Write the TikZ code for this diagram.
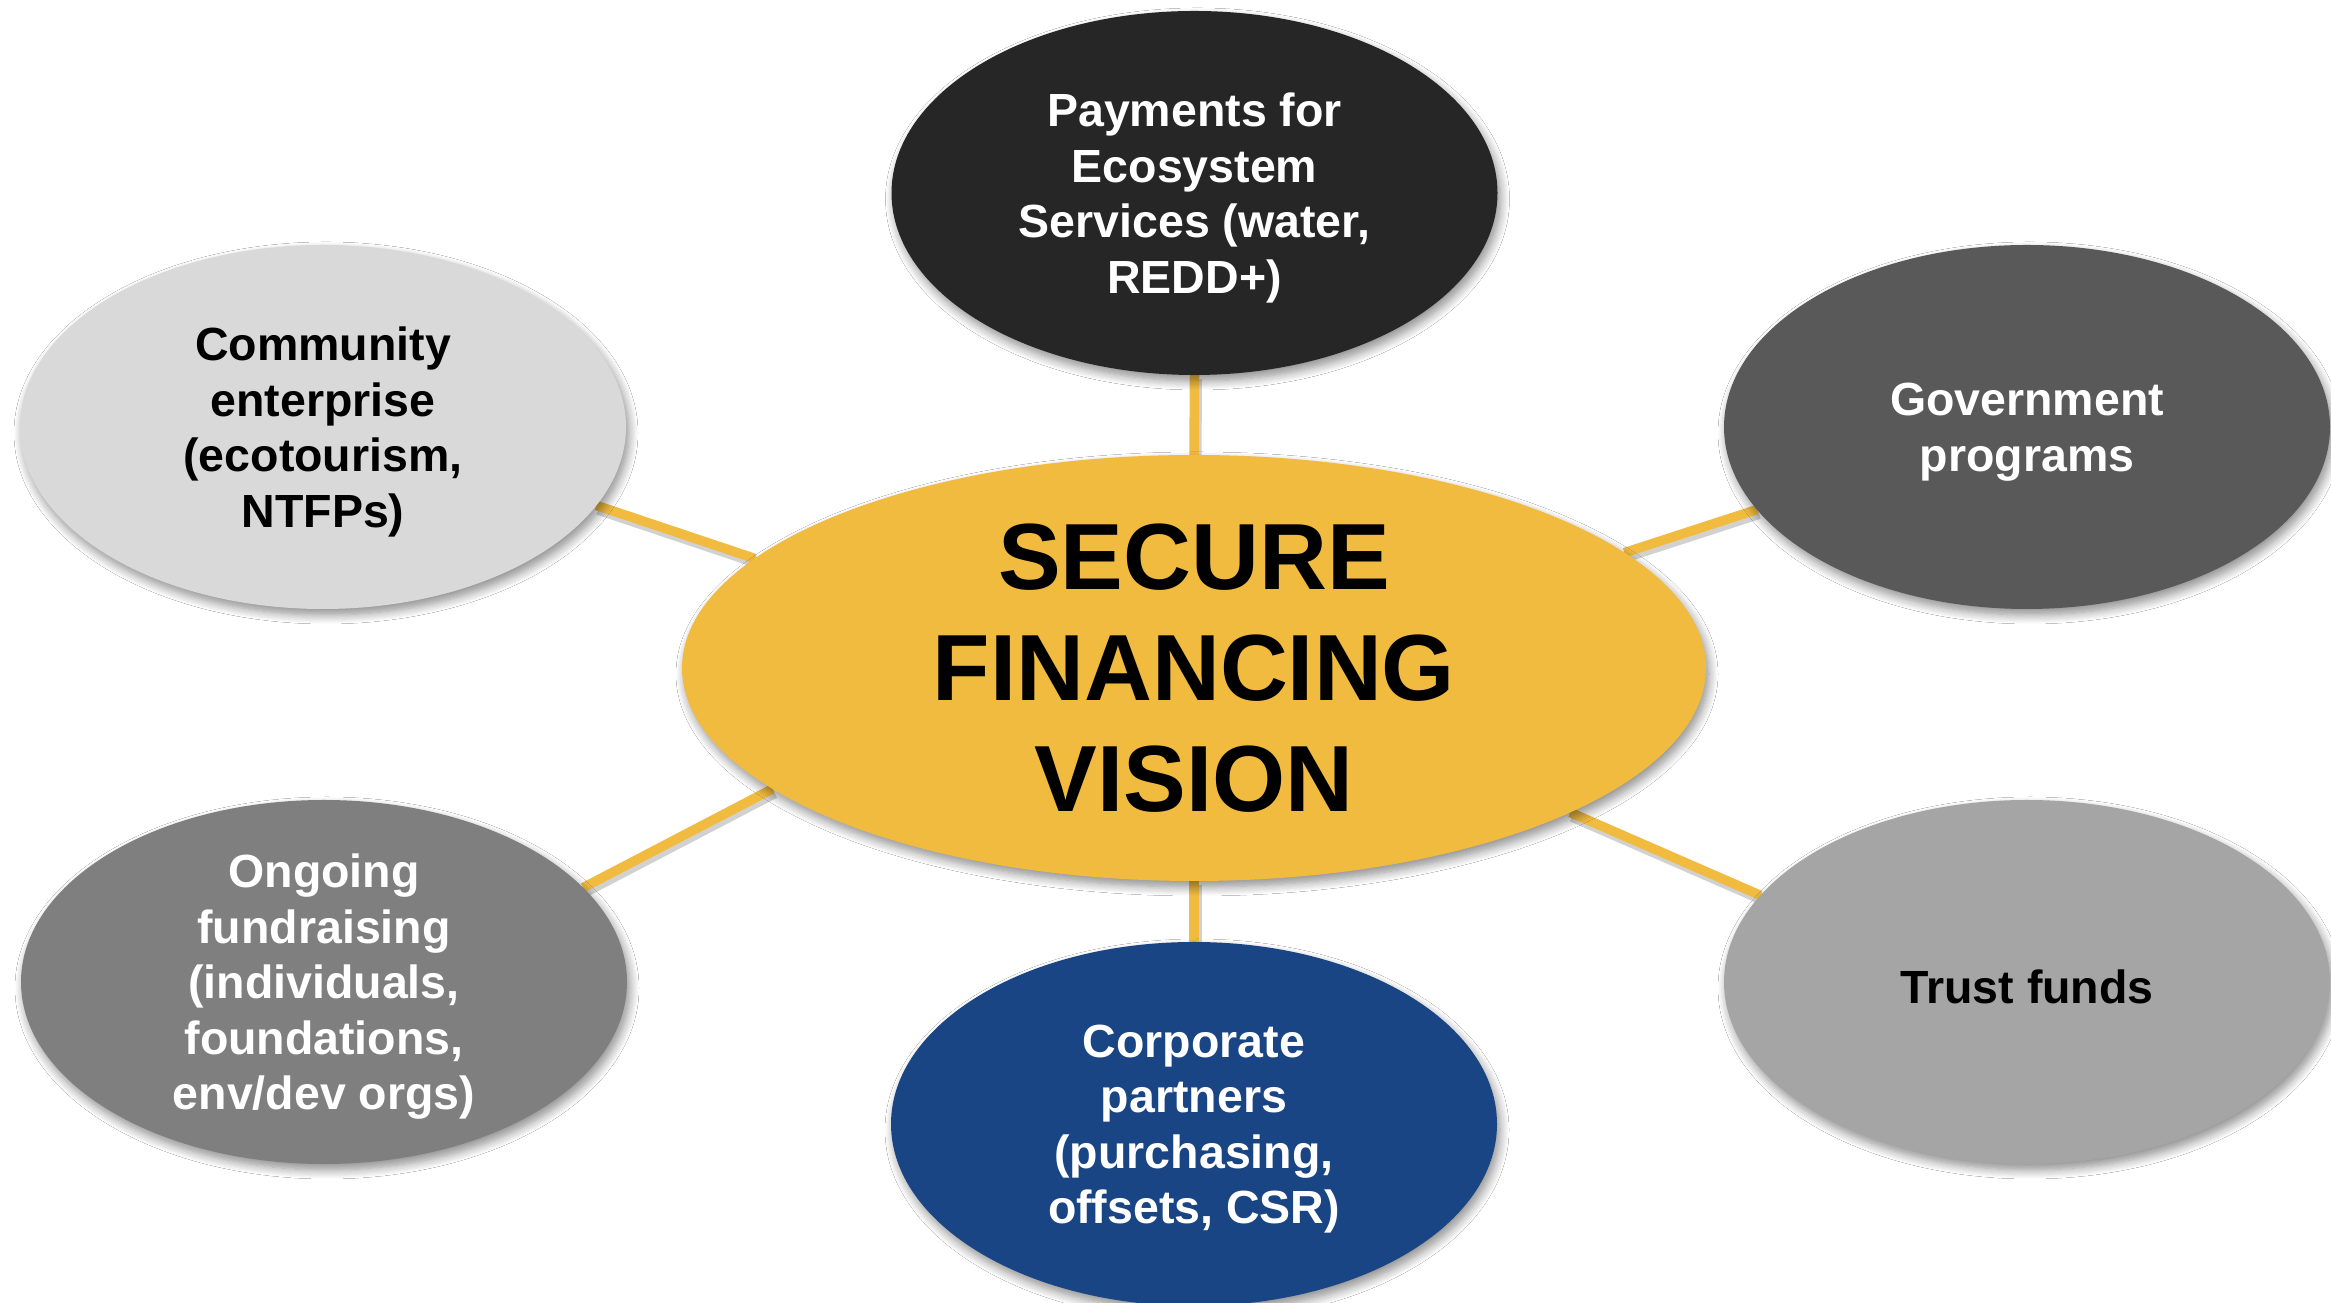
\documentclass[tikz,border=0pt]{standalone}
\usepackage{fontspec}
\setmainfont{Liberation Sans}
\usetikzlibrary{shapes.geometric,shadows.blur,backgrounds}
\definecolor{gold}{HTML}{F1BB40}
\definecolor{cdark}{HTML}{262626}
\definecolor{cgov}{HTML}{595959}
\definecolor{clight}{HTML}{D9D9D9}
\definecolor{cmid}{HTML}{7F7F7F}
\definecolor{ctrust}{HTML}{A5A5A5}
\definecolor{cblue}{HTML}{1A4584}
\tikzset{
  bubble/.style={ellipse, inner sep=0pt, outer sep=0pt, draw=none,
    minimum width=606pt, minimum height=364pt,
    blur shadow={shadow xshift=3pt, shadow yshift=-6pt, shadow blur radius=9pt, shadow blur steps=10, shadow opacity=45}},
  btext/.style={font=\fontsize{46.5pt}{55.5pt}\selectfont\bfseries, align=center, yshift=-5pt},
  ctext/.style={font=\fontsize{94pt}{111pt}\selectfont\bfseries, align=center},
  link/.style={draw=gold, line width=9.5pt,
    preaction={draw=black, draw opacity=0.18, line width=11pt, transform canvas={xshift=2pt,yshift=-4pt}}}
}
\begin{document}
\begin{tikzpicture}[x=1pt,y=1pt]
\useasboundingbox (0,0) rectangle (2331,1303);
\node[bubble, fill=gold, minimum width=1024pt, minimum height=426pt,
  label={[ctext, text=black]center:SECURE\\FINANCING\\VISION}] (cen) at (1194,635) {};
\node[bubble, fill=cdark,
  label={[btext, text=white]center:Payments for\\Ecosystem\\Services (water,\\REDD+)}] (pes) at (1194.5,1110) {};
\node[bubble, fill=clight,
  label={[btext, text=black]center:Community\\enterprise\\(ecotourism,\\NTFPs)}] (com) at (323,876) {};
\node[bubble, fill=cgov,
  label={[btext, text=white]center:Government\\programs}] (gov) at (2027,876) {};
\node[bubble, fill=cmid,
  label={[btext, text=white]center:Ongoing\\fundraising\\(individuals,\\foundations,\\env/dev orgs)}] (ong) at (324,321) {};
\node[bubble, fill=ctrust,
  label={[btext, text=black]center:Trust funds}] (tru) at (2027,321) {};
\node[bubble, fill=cblue,
  label={[btext, text=white]center:Corporate\\partners\\(purchasing,\\offsets, CSR)}] (cor) at (1194,179) {};
\begin{pgfonlayer}{background}
\fill[white] (0,0) rectangle (2331,1303);
\draw[link] (pes.south) -- (cen.north);
\draw[link] (cen.south) -- (cor.north);
\draw[link] (com.-16.7) -- (cen.166.9);
\draw[link] (gov.197.4) -- (cen.15.9);
\draw[link] (ong.20.4) -- (cen.196.1);
\draw[link] (tru.162.5) -- (cen.-21.6);
\end{pgfonlayer}
\end{tikzpicture}
\end{document}
